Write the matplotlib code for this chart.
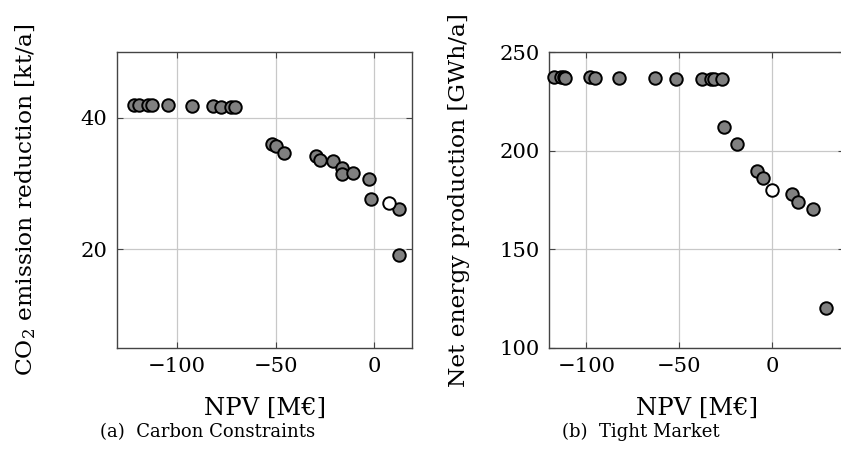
import matplotlib

matplotlib.use("Agg")
import matplotlib.pyplot as plt

# (a) Carbon Constraints: NPV [M€] vs CO2 reduction [kt/a]
carbon_npv = [-121.4, -118.9, -114.6, -112.5, -104.5, -92.3, -81.8, -77.8, -72.6, -70.7,
              -51.7, -50.0, -45.8, -29.5, -27.4, -21.0, -16.5, -16.3, -10.8, -2.5, -1.85,
              12.3, 12.6]
carbon_co2 = [41.97, 41.97, 41.97, 41.97, 41.97, 41.8, 41.77, 41.7, 41.67, 41.67,
              36.06, 35.76, 34.65, 34.24, 33.54, 33.43, 32.37, 31.5, 31.57, 30.76, 27.58,
              26.06, 19.14]
carbon_sel_npv = [7.4]
carbon_sel_co2 = [27.07]

# (b) Tight Market: NPV [M€] vs net energy production [GWh/a]
market_npv = [-117.6, -113.6, -112.2, -111.3, -98.2, -95.3, -82.2, -63.0, -51.7, -37.7,
              -32.7, -31.2, -27.1, -25.9, -19.0, -8.4, -4.7, 10.4, 14.0, 22.1, 28.9]
market_energy = [237.6, 237.6, 237.3, 237.2, 237.3, 237.1, 236.9, 236.8, 236.6, 236.6,
                 236.6, 236.3, 236.3, 212.2, 203.2, 189.8, 186.4, 178.0, 173.9, 170.2, 120.3]
market_sel_npv = [-0.2]
market_sel_energy = [180.3]

plt.rcParams["font.family"] = "DejaVu Serif"
plt.rcParams["mathtext.fontset"] = "dejavuserif"

TICK_SIZE = 15.2
XLABEL_SIZE = 17.5
YLABEL_SIZE = 16.8
SPINE = "#444444"


def style_axes(ax):
    ax.grid(True, color="#c8c8c8", linewidth=0.9)
    ax.set_axisbelow(True)
    for sp in ax.spines.values():
        sp.set_color(SPINE)
        sp.set_linewidth(1.0)
    ax.tick_params(direction="in", length=4, width=0.8, color=SPINE,
                   top=True, right=True, labelsize=TICK_SIZE, pad=7)


def scatter(ax, x, y, face):
    ax.plot(x, y, linestyle="none", marker="o", markersize=9,
            markerfacecolor=face, markeredgecolor="black", markeredgewidth=1.4,
            zorder=3, clip_on=False)


fig = plt.figure(figsize=(8.41, 4.67), dpi=100)
ax1 = fig.add_axes([0.1395, 0.2555, 0.3504, 0.6325])
ax2 = fig.add_axes([0.6531, 0.2555, 0.3504, 0.6325])

scatter(ax1, carbon_npv, carbon_co2, "#808080")
scatter(ax1, carbon_sel_npv, carbon_sel_co2, "white")
ax1.set_xlim(-130, 19)
ax1.set_ylim(5, 50)
ax1.set_xticks([-100, -50, 0])
ax1.set_yticks([20, 40])
ax1.set_xlabel("NPV [M€]", fontsize=XLABEL_SIZE)
ax1.set_ylabel(r"CO$_2$ emission reduction [kt/a]", fontsize=YLABEL_SIZE)
style_axes(ax1)

scatter(ax2, market_npv, market_energy, "#808080")
scatter(ax2, market_sel_npv, market_sel_energy, "white")
ax2.set_xlim(-120, 38.6)
ax2.set_ylim(100, 250)
ax2.set_xticks([-100, -50, 0])
ax2.set_yticks([100, 150, 200, 250])
ax2.set_xlabel("NPV [M€]", fontsize=XLABEL_SIZE)
ax2.set_ylabel("Net energy production [GWh/a]", fontsize=YLABEL_SIZE)
style_axes(ax2)

for ax in (ax1, ax2):
    ax.yaxis.set_label_coords(-0.268, 0.5)
    ax.xaxis.set_label_coords(0.5, -0.167)

fig.text(208 / 841, 1 - 432 / 467, "(a)  Carbon Constraints", fontsize=13,
         ha="center", va="center")
fig.text(641 / 841, 1 - 432 / 467, "(b)  Tight Market", fontsize=13,
         ha="center", va="center")

fig.savefig("out.png", dpi=100)
plt.close(fig)
